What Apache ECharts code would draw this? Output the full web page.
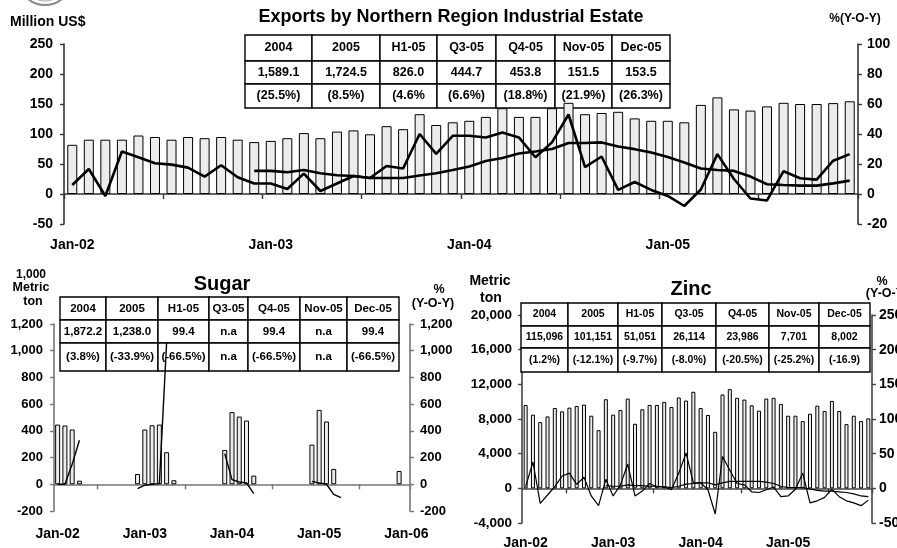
<!DOCTYPE html>
<html><head><meta charset="utf-8">
<script src="https://cdn.jsdelivr.net/npm/echarts@6/dist/echarts.min.js"></script>
<style>html,body{margin:0;padding:0;background:#fff}#c{width:897px;height:548px}</style>
</head><body><div id="c"></div>
<script>
// ---------- categories ----------
const months = ['Jan-02','Feb-02','Mar-02','Apr-02','May-02','Jun-02','Jul-02','Aug-02','Sep-02','Oct-02','Nov-02','Dec-02',
 'Jan-03','Feb-03','Mar-03','Apr-03','May-03','Jun-03','Jul-03','Aug-03','Sep-03','Oct-03','Nov-03','Dec-03',
 'Jan-04','Feb-04','Mar-04','Apr-04','May-04','Jun-04','Jul-04','Aug-04','Sep-04','Oct-04','Nov-04','Dec-04',
 'Jan-05','Feb-05','Mar-05','Apr-05','May-05','Jun-05','Jul-05','Aug-05','Sep-05','Oct-05','Nov-05','Dec-05'];
const sugarMonths = months.concat(['Jan-06']);

// ---------- Exports (Million US$) ----------
const exportsValue = [82, 90.5, 90.5, 90.5, 97.5, 95, 90.5, 95, 93, 95, 90.5, 86.5,
 88.5, 93, 101.5, 93, 104, 106, 99.5, 113, 108, 133, 115, 119.5,
 122, 128.5, 143, 128.5, 128.5, 143, 152, 133, 135, 137, 126, 122,
 122, 119.5, 148.5, 161, 141, 139, 146, 152, 150, 150, 151.5, 154.5];
const exportsYoY = [6, 16.7, -1.3, 28.3, 24.5, 20.5, 19.6, 17.6, 11.6, 19.2, 11.2, 7,
 7, 3.3, 13.6, 2, 7, 12, 10.7, 18.7, 17, 40, 26.7, 38.8,
 38.8, 37.7, 41, 37.7, 24.5, 34.4, 53, 17.9, 25, 2.7, 8, 2.7,
 -1.3, -8, 3, 26.6, 10, -3, -4.3, 15.2, 10.5, 9.6, 22.2, 26.6];
const exportsRolling = [null, null, null, null, null, null, null, null, null, null, null, 15.4,
 15.4, 14.5, 16, 13.8, 12.5, 12, 10.7, 10.7, 10.7, 12.3, 13.8, 16,
 18.3, 22, 24, 27, 28.3, 30, 34, 34, 34.4, 31.7, 29.9, 27.7,
 24.6, 21, 17, 16, 15.4, 11.6, 6.5, 6, 5.6, 5.6, 7.1, 8.9];
const exportsTable = [
 ['2004','2005','H1-05','Q3-05','Q4-05','Nov-05','Dec-05'],
 ['1,589.1','1,724.5','826.0','444.7','453.8','151.5','153.5'],
 ['(25.5%)','(8.5%)','(4.6%','(6.6%)','(18.8%)','(21.9%)','(26.3%)']];

// ---------- Sugar (1,000 metric ton) ----------
const sugarValue = [447, 440, 410, 27, null, null, null, null, null, null, null, 77,
 410, 442, 447, 240, 30, null, null, null, null, null, null, 257,
 540, 507, 477, 65, null, null, null, null, null, null, null, 297,
 557, 470, 115, null, null, null, null, null, null, null, null, 99.4, null];
const sugarYoY = [0, 0, 150, 330, null, null, null, null, null, null, null, -32,
 -7, 0, 5, 1060, null, null, null, null, null, null, null, 230,
 35, 17, 10, -70, null, null, null, null, null, null, null, 22,
 10, 0, -75, -100, null, null, null, null, null, null, null, null, null];
const sugarTable = [
 ['2004','2005','H1-05','Q3-05','Q4-05','Nov-05','Dec-05'],
 ['1,872.2','1,238.0','99.4','n.a','99.4','n.a','99.4'],
 ['(3.8%)','(-33.9%)','(-66.5%)','n.a','(-66.5%)','n.a','(-66.5%)']];

// ---------- Zinc (metric ton) ----------
const zincValue = [9620, 8500, 7640, 8300, 9270, 8880, 9310, 9500, 9660, 8380, 6710, 10280,
 8500, 9040, 10360, 7450, 9120, 9620, 9620, 9970, 9390, 10480, 10130, 11140,
 9270, 8460, 6520, 10830, 11450, 10440, 10240, 9580, 8960, 10360, 10440, 9740,
 8380, 8380, 7760, 8610, 9540, 8920, 10090, 8920, 7410, 8380, 7760, 8070];
const zincYoY = [2.4, 38, -21.6, -9.6, 2.4, 17.8, 22, 5.8, 16, -11, -25, 13,
 -11, 5, 35, -11, -4, 7, 2, 2, -2, 22, 51, 8,
 8, -2, -37, 46, 26, 7, 5, -5, -6, -2, 2, -12,
 -11, -1.4, 22, -21, -18, -13, -1.4, -12, -18, -21, -25, -17];
const zincRolling = [null, null, null, null, null, null, null, null, null, null, null, 4,
 3, 3, 5, 4, 4, 3, 3, 2, 1, 3, 6, 7,
 8, 8, 5, 8, 10, 10, 10, 10, 10, 9, 7, 3,
 1, 1, 1, -1, -3, -4, -4, -5, -6, -8, -11, -12];
const zincTable = [
 ['2004','2005','H1-05','Q3-05','Q4-05','Nov-05','Dec-05'],
 ['115,096','101,151','51,051','26,114','23,986','7,701','8,002'],
 ['(1.2%)','(-12.1%)','(-9.7%)','(-8.0%)','(-20.5%)','(-25.2%)','(-16.9)']];

// ---------- helpers ----------
const FF = '"Liberation Sans", Arial, sans-serif';
const fmt = v => v.toLocaleString('en-US');

function table(xs, ys, rows, fs) {
  const els = [];
  for (let r = 0; r < rows.length; r++) {
    for (let c = 0; c < rows[r].length; c++) {
      els.push({type:'rect', z:1, shape:{x:xs[c], y:ys[r], width:xs[c+1]-xs[c], height:ys[r+1]-ys[r]},
        style:{fill:'#fff', stroke:'#000', lineWidth:1.4}});
      els.push({type:'text', z:1, x:(xs[c]+xs[c+1])/2, y:(ys[r]+ys[r+1])/2,
        style:{text:rows[r][c], font:'bold '+fs+'px '+FF, fill:'#000',
          textAlign:'center', textVerticalAlign:'middle', align:'center', verticalAlign:'middle'}});
    }
  }
  return els;
}
function label(text, x, y, fs, align) {
  return {type:'text', z:5, x:x, y:y, style:{text:text, font:'bold '+fs+'px '+FF, fill:'#000',
    textAlign:align||'center', textVerticalAlign:'middle', align:align||'center', verticalAlign:'middle'}};
}
function xAx(grid, data, color, tickFn, margin) {
  return {type:'category', gridIndex:grid, data:data, boundaryGap:true,
    axisLine:{onZero:true, lineStyle:{color:color, width:1.6}},
    axisTick:{show:true, interval:tickFn, length:5, lineStyle:{color:color, width:1.4}},
    axisLabel:{interval:11, margin:margin, fontSize:14, fontWeight:'bold', color:'#000', fontFamily:FF},
    splitLine:{show:false}};
}
function yAx(grid, pos, min, max, step, color, fs, margin, f) {
  return {type:'value', gridIndex:grid, position:pos, min:min, max:max, interval:step,
    axisLine:{show:true, onZero:false, lineStyle:{color:color, width:1.6}},
    axisTick:{show:true, length:4, lineStyle:{color:color, width:1.4}},
    axisLabel:{margin:margin, fontSize:fs, fontWeight:'bold', color:'#000', fontFamily:FF, formatter:f||(v=>fmt(v))},
    splitLine:{show:false}};
}
const barStyle = {color:'#ececec', borderColor:'#000', borderWidth:1};
const yearTick = i => i % 12 === 6;

const chart = echarts.init(document.getElementById('c'), null, {renderer:'canvas'});
chart.setOption({
  animation:false,
  backgroundColor:'#fff',
  grid:[
    {left:64, right:39, top:44, height:180, outerBoundsMode:'none', containLabel:false},
    {left:54, right:487, top:324, height:187, outerBoundsMode:'none', containLabel:false},
    {left:522, right:25, top:315, height:208, outerBoundsMode:'none', containLabel:false}
  ],
  xAxis:[
    xAx(0, months, '#333', 5, 14),
    xAx(1, sugarMonths, '#777', yearTick, 16),
    xAx(2, months, '#444', yearTick, 13)
  ],
  yAxis:[
    yAx(0, 'left', -50, 250, 50, '#333', 14, 11),
    yAx(0, 'right', -20, 100, 20, '#333', 14, 9),
    yAx(1, 'left', -200, 1200, 200, '#777', 13, 11),
    yAx(1, 'right', -200, 1200, 200, '#777', 13, 10),
    yAx(2, 'left', -4000, 20000, 4000, '#444', 13.5, 10),
    yAx(2, 'right', -50, 250, 50, '#444', 14, 7)
  ],
  series:[
    {type:'bar', xAxisIndex:0, yAxisIndex:0, data:exportsValue, barWidth:10, itemStyle:barStyle, z:3},
    {type:'line', xAxisIndex:0, yAxisIndex:1, data:exportsYoY, symbol:'none', lineStyle:{color:'#000', width:2.6}, z:4},
    {type:'line', xAxisIndex:0, yAxisIndex:1, data:exportsRolling, symbol:'none', lineStyle:{color:'#000', width:2.6}, z:4},
    {type:'bar', xAxisIndex:1, yAxisIndex:2, data:sugarValue, barWidth:5, itemStyle:barStyle, z:3},
    {type:'line', xAxisIndex:1, yAxisIndex:3, data:sugarYoY, symbol:'none', connectNulls:false, lineStyle:{color:'#000', width:1.4}, z:4},
    {type:'bar', xAxisIndex:2, yAxisIndex:4, data:zincValue, barWidth:4, itemStyle:barStyle, z:3},
    {type:'line', xAxisIndex:2, yAxisIndex:5, data:zincYoY, symbol:'none', lineStyle:{color:'#000', width:1.2}, z:4},
    {type:'line', xAxisIndex:2, yAxisIndex:5, data:zincRolling, symbol:'none', lineStyle:{color:'#000', width:1.2}, z:4}
  ],
  graphic:[].concat(
    table([245,312,380,437,496,555,612,670],[35,61,84,108], exportsTable, 12.5),
    table([60,106,158,209,248,300,347,399],[297,320,343,371], sugarTable, 11.5),
    table([521,568,618,662,716,769,819,870],[303,326,348,372], zincTable, 10.5),
    [
      {type:'circle', z:1, shape:{cx:45, cy:-22, r:27}, style:{fill:'none', stroke:'#888', lineWidth:2}},
      {type:'circle', z:1, shape:{cx:45, cy:-22, r:23}, style:{fill:'none', stroke:'#aaa', lineWidth:1}},
      label('Exports by Northern Region Industrial Estate', 451, 17, 18),
      label('Million US$', 10, 22, 14, 'left'),
      label('%(Y-O-Y)', 855, 19, 12),
      label('Sugar', 222, 284, 20),
      label('1,000', 31, 275, 12),
      label('Metric', 31, 288, 12.5),
      label('ton', 33, 302, 12.5),
      label('%', 439, 290, 12.5),
      label('(Y-O-Y)', 433, 304, 12.5),
      label('Zinc', 691, 289, 20),
      label('Metric', 490, 281, 14),
      label('ton', 491, 298, 14),
      label('%', 882, 282, 12.5),
      label('(Y-O-Y)', 887, 294, 12.5)
    ])
});
</script></body></html>
